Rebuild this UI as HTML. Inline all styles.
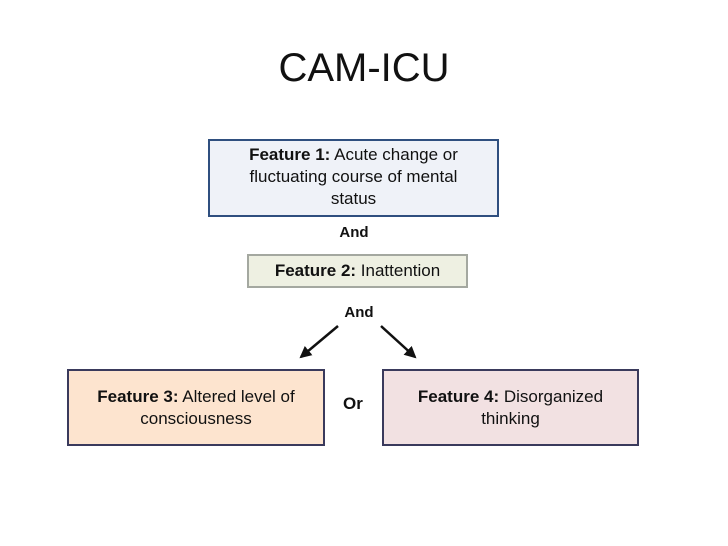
<!DOCTYPE html>
<html><head><style>
body{margin:0;width:728px;height:546px;background:#fff;position:relative;font-family:"Liberation Sans",Arial,sans-serif;color:#111;overflow:hidden}
.a{position:absolute}
.box{position:absolute;box-sizing:border-box;display:flex;align-items:center;justify-content:center;text-align:center;font-size:17px;line-height:22px}
b{font-weight:bold}
</style></head><body>
<div class="a" style="left:0;width:728px;top:44px;text-align:center;font-size:40px;line-height:48px">CAM-ICU</div>
<div class="box" style="left:208px;top:139px;width:291px;height:78px;background:#eff2f8;border:2px solid #2f4f7f;padding:0 20px 3px"><div><b>Feature 1:</b> Acute change or fluctuating course of mental status</div></div>
<div class="a" style="left:0;width:708px;top:224px;text-align:center;font-size:15px;font-weight:bold">And</div>
<div class="box" style="left:247px;top:254px;width:221px;height:34px;background:#eef0e2;border:2px solid #a4a8a0"><div><b>Feature 2:</b> Inattention</div></div>
<div class="a" style="left:0;width:718px;top:304px;text-align:center;font-size:15px;font-weight:bold">And</div>
<svg class="a" style="left:0;top:0" width="728" height="546">
<defs><marker id="m" markerWidth="12" markerHeight="12" refX="10" refY="6" orient="auto" markerUnits="userSpaceOnUse" viewBox="0 0 12 12"><path d="M0,0L12,6L0,12z" fill="#111"/></marker></defs>
<line x1="338" y1="326" x2="301" y2="357" stroke="#111" stroke-width="2.5" marker-end="url(#m)"/>
<line x1="381" y1="326" x2="415" y2="357" stroke="#111" stroke-width="2.5" marker-end="url(#m)"/>
</svg>
<div class="box" style="left:67px;top:369px;width:258px;height:77px;background:#fde4cf;border:2px solid #3a3a5c"><div><b>Feature 3:</b> Altered level of consciousness</div></div>
<div class="a" style="left:343px;top:394px;font-size:17px;font-weight:bold">Or</div>
<div class="box" style="left:382px;top:369px;width:257px;height:77px;background:#f2e1e2;border:2px solid #3a3a5c;padding:0 12px"><div><b>Feature 4:</b> Disorganized thinking</div></div>
</body></html>
